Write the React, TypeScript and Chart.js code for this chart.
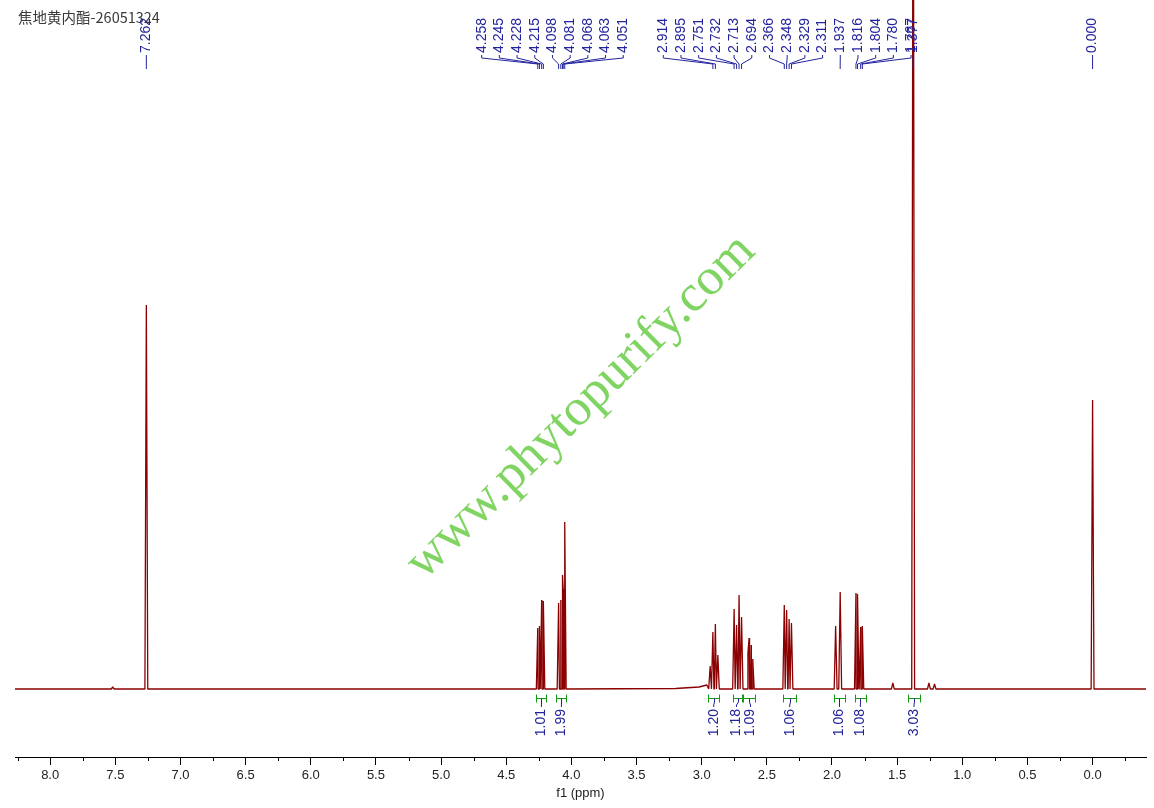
import React, { useEffect, useRef } from 'react';
import { Chart, registerables } from 'chart.js';

Chart.register(...registerables);

// ---------- data ----------
const TITLE = '焦地黄内酯-26051324';
const AXIS_TITLE = 'f1 (ppm)';
const WATERMARK = 'www.phytopurify.com';

const X_MAX = 8.27;
const X_MIN = -0.41;

// peak positions (ppm) and heights (intensity units above baseline)
const peakPpm = [
  7.52, 7.262,
  4.258, 4.245, 4.228, 4.215,
  4.098, 4.081, 4.068, 4.063, 4.051,
  2.935, 2.914, 2.895, 2.876,
  2.751, 2.732, 2.713, 2.694,
  2.645, 2.636, 2.62, 2.608,
  2.366, 2.348, 2.329, 2.311,
  1.972, 1.937,
  1.816, 1.804, 1.78, 1.767,
  1.533, 1.377, 1.256, 1.213,
  0.0,
];
const peakHeight = [
  2, 384,
  61, 63, 89, 88,
  86, 89, 114, 100, 167,
  23, 57, 65, 34,
  80, 64, 94, 72,
  36, 51, 44, 30,
  84, 79, 70, 66,
  63, 97,
  96, 95, 62, 63,
  6, 1000, 6, 5,
  289,
];

// baseline anchor points (ppm, level)
const baselinePpm = [8.27, 3.2, 3.02, 2.96, -0.41];
const baselineLevel = [0, 0.5, 2, 4, 0];

// peak-picking label groups (ppm)
const labelGroup7 = [7.262];
const labelGroup4 = [4.258, 4.245, 4.228, 4.215, 4.098, 4.081, 4.068, 4.063, 4.051];
const labelGroup2 = [2.914, 2.895, 2.751, 2.732, 2.713, 2.694, 2.366, 2.348, 2.329, 2.311, 1.937, 1.816, 1.804, 1.78, 1.767];
const labelGroup1 = [1.377];
const labelGroup0 = [0.0];

// integrals
const integralStart = [4.268, 4.115, 2.95, 2.76, 2.68, 2.373, 1.985, 1.824, 1.415];
const integralEnd = [4.192, 4.038, 2.865, 2.687, 2.59, 2.276, 1.9, 1.74, 1.326];
const integralValue = ['1.01', '1.99', '1.20', '1.18', '1.09', '1.06', '1.06', '1.08', '3.03'];

// ---------- styles ----------
const SPEC_COLOR = '#8b0000';
const BLUE = '#23239c';
const GREEN = '#159a15';
const LABEL_FONT = '14px "Liberation Sans", Arial, sans-serif';
const SPIKE_HALF = 0.011;
const LABEL_GAP = 17.7;
const INTEGRAL_GAP = 14;

function buildSpectrum() {
  const pts: { x: number; y: number }[] = [];
  baselinePpm.forEach((p, i) => pts.push({ x: p, y: baselineLevel[i] }));
  peakPpm.forEach((p, i) => {
    pts.push({ x: p + SPIKE_HALF, y: 0 });
    pts.push({ x: p, y: peakHeight[i] });
    pts.push({ x: p - SPIKE_HALF, y: 0 });
  });
  pts.sort((a, b) => b.x - a.x);
  return pts;
}

function dodge(pxs: number[], gap: number): number[] {
  let clusters = pxs.map((p, i) => ({ idx: [i], center: p }));
  let changed = true;
  while (changed) {
    changed = false;
    for (let i = 0; i < clusters.length - 1; i++) {
      const a = clusters[i];
      const b = clusters[i + 1];
      const aRight = a.center + ((a.idx.length - 1) * gap) / 2;
      const bLeft = b.center - ((b.idx.length - 1) * gap) / 2;
      if (bLeft - aRight < gap) {
        const idx = a.idx.concat(b.idx);
        const center = idx.reduce((s, k) => s + pxs[k], 0) / idx.length;
        clusters.splice(i, 2, { idx, center });
        changed = true;
        break;
      }
    }
  }
  const out = new Array(pxs.length).fill(0);
  clusters.forEach((c) => {
    const start = c.center - ((c.idx.length - 1) * gap) / 2;
    c.idx.forEach((k, j) => (out[k] = start + j * gap));
  });
  return out;
}

const isMajor = (v: number) => Math.abs(v / 0.5 - Math.round(v / 0.5)) < 1e-6;

const annotationPlugin = {
  id: 'nmrAnnotations',
  afterDraw(chart: any) {
    const ctx: CanvasRenderingContext2D = chart.ctx;
    const xs = chart.scales.x;
    const area = chart.chartArea;

    // minor ticks
    ctx.save();
    ctx.strokeStyle = '#000';
    ctx.lineWidth = 1;
    xs.ticks.forEach((t: any) => {
      if (!isMajor(t.value)) {
        const px = Math.round(xs.getPixelForValue(t.value)) + 0.5;
        ctx.beginPath();
        ctx.moveTo(px, area.bottom);
        ctx.lineTo(px, area.bottom + 4);
        ctx.stroke();
      }
    });
    ctx.restore();

    // watermark
    ctx.save();
    ctx.translate(581, 407);
    ctx.rotate((-44.6 * Math.PI) / 180);
    ctx.font = '52px "Liberation Serif", "Times New Roman", serif';
    ctx.fillStyle = 'rgba(105, 205, 70, 0.85)';
    ctx.textAlign = 'center';
    ctx.textBaseline = 'middle';
    ctx.fillText(WATERMARK, 0, 0);
    ctx.restore();

    // title
    ctx.save();
    ctx.font = '14.5px "Noto Sans CJK SC", sans-serif';
    ctx.fillStyle = '#3a3a3a';
    ctx.textBaseline = 'middle';
    ctx.textAlign = 'left';
    ctx.fillText(TITLE, 18, 17);
    ctx.restore();

    // peak labels
    const groups = [labelGroup7, labelGroup4, labelGroup2, labelGroup1, labelGroup0];
    ctx.save();
    ctx.font = LABEL_FONT;
    ctx.fillStyle = BLUE;
    ctx.strokeStyle = BLUE;
    ctx.lineWidth = 1;
    groups.forEach((g) => {
      const pxs = g.map((p) => xs.getPixelForValue(p));
      const lxs = dodge(pxs, LABEL_GAP);
      g.forEach((p, i) => {
        const px = pxs[i];
        const lx = lxs[i];
        ctx.save();
        ctx.translate(lx, 53);
        ctx.rotate(-Math.PI / 2);
        ctx.textAlign = 'left';
        ctx.textBaseline = 'middle';
        ctx.fillText(p.toFixed(3), 0, 0);
        ctx.restore();
        ctx.beginPath();
        if (g.length === 1) {
          ctx.moveTo(px, 55);
          ctx.lineTo(px, 69);
        } else {
          ctx.moveTo(lx, 55);
          ctx.lineTo(lx, 58);
          ctx.lineTo(px, 64);
          ctx.lineTo(px, 69);
        }
        ctx.stroke();
      });
    });
    ctx.restore();

    // integrals
    ctx.save();
    ctx.lineWidth = 1;
    ctx.font = LABEL_FONT;
    const centers = integralStart.map(
      (s, i) => (xs.getPixelForValue(s) + xs.getPixelForValue(integralEnd[i])) / 2
    );
    const labelXs = dodge(centers, INTEGRAL_GAP);
    integralStart.forEach((s, i) => {
      const x1 = Math.round(xs.getPixelForValue(s)) + 0.5;
      const x2 = Math.round(xs.getPixelForValue(integralEnd[i])) + 0.5;
      const xc = Math.round(centers[i]) + 0.5;
      const lx = labelXs[i];
      const yb = 698.5;
      ctx.strokeStyle = GREEN;
      ctx.beginPath();
      ctx.moveTo(x1, yb);
      ctx.lineTo(x2, yb);
      ctx.moveTo(x1, yb - 4);
      ctx.lineTo(x1, yb + 4);
      ctx.moveTo(x2, yb - 4);
      ctx.lineTo(x2, yb + 4);
      ctx.stroke();
      ctx.strokeStyle = BLUE;
      ctx.beginPath();
      ctx.moveTo(xc, yb);
      ctx.lineTo(xc, 702);
      ctx.lineTo(lx, 705);
      ctx.lineTo(lx, 707);
      ctx.stroke();
      ctx.save();
      ctx.translate(lx, 709);
      ctx.rotate(-Math.PI / 2);
      ctx.fillStyle = BLUE;
      ctx.textAlign = 'right';
      ctx.textBaseline = 'middle';
      ctx.fillText(integralValue[i], 0, 0);
      ctx.restore();
    });
    ctx.restore();
  },
};

export default function App() {
  const canvasRef = useRef<HTMLCanvasElement | null>(null);

  useEffect(() => {
    document.body.style.margin = '0';
    const canvas = canvasRef.current;
    if (!canvas) return;
    const chart = new Chart(canvas, {
      type: 'line',
      data: {
        datasets: [
          {
            data: buildSpectrum(),
            borderColor: SPEC_COLOR,
            borderWidth: 1.3,
            pointRadius: 0,
            tension: 0,
            fill: false,
            borderJoinStyle: 'bevel',
          },
        ],
      },
      options: {
        responsive: false,
        animation: false,
        events: [],
        layout: { padding: { left: 15, right: 8, top: 0, bottom: 0 } },
        plugins: {
          legend: { display: false },
          tooltip: { enabled: false },
        },
        scales: {
          x: {
            type: 'linear',
            reverse: true,
            min: X_MIN,
            max: X_MAX,
            afterFit: (s: any) => {
              s.height = 51;
            },
            border: { display: true, color: '#000', width: 1 },
            grid: {
              display: true,
              drawOnChartArea: false,
              drawTicks: true,
              tickLength: 8,
              tickColor: (c: any) => (c.tick && isMajor(c.tick.value) ? '#000' : 'rgba(0,0,0,0)'),
            },
            ticks: {
              stepSize: 0.25,
              autoSkip: false,
              maxRotation: 0,
              minRotation: 0,
              includeBounds: false,
              padding: 3,
              color: '#222',
              font: { family: '"Liberation Sans", Arial, sans-serif', size: 13 },
              callback: (v: any) => (isMajor(Number(v)) ? Math.abs(Number(v)).toFixed(1) : ''),
            },
            title: {
              display: true,
              text: AXIS_TITLE,
              color: '#222',
              font: { family: '"Liberation Sans", Arial, sans-serif', size: 13 },
              padding: { top: 0, bottom: 7 },
            },
          },
          y: { display: false, min: -68, max: 689 },
        },
      },
      plugins: [annotationPlugin],
    } as any);
    return () => chart.destroy();
  }, []);

  return (
    <div style={{ width: 1154, height: 808, background: '#fff' }}>
      <canvas ref={canvasRef} width={1154} height={808} style={{ display: 'block' }} />
    </div>
  );
}
